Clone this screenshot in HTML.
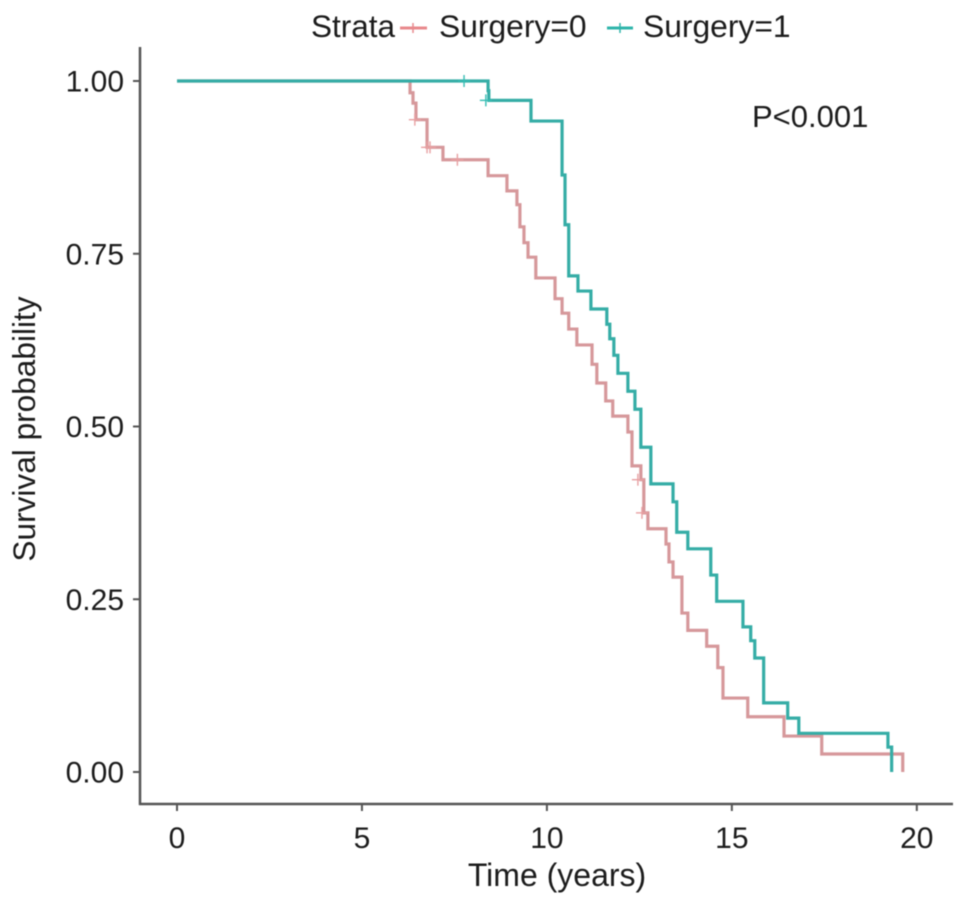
<!DOCTYPE html>
<html lang="en">
<head>
<meta charset="utf-8">
<title>Survival curve by surgery</title>
<style>
  html, body { margin: 0; padding: 0; background: #fff; }
  #chart { display: block; width: 969px; height: 905px; filter: blur(0.55px); font-family: "Liberation Sans", Arial, sans-serif; }
  text { fill: #1c1c1c; }
</style>
</head>
<body>
<svg id="chart" xmlns="http://www.w3.org/2000/svg" width="969" height="905" viewBox="0 0 969 905">
  <rect x="0" y="0" width="969" height="905" fill="#fff"></rect>
  <g id="axes"></g>
  <g id="series"></g>
  <text x="557" y="886" font-size="32" text-anchor="middle">Time (years)</text>
  <text transform="translate(35,429) rotate(-90)" font-size="31.6" text-anchor="middle">Survival probability</text>
  <text x="752" y="127" font-size="31">P&lt;0.001</text>
  <g>
    <text x="311" y="37" font-size="31.5">Strata</text>
    <g>
      <line x1="400" x2="427" y1="28" y2="28" stroke="#e8898c" stroke-width="3"></line>
      <line x1="413" x2="413" y1="23" y2="33" stroke="#e8898c" stroke-width="1.5"></line>
      <text x="439" y="37" font-size="31.8">Surgery=0</text>
    </g>
    <g>
      <line x1="607" x2="633" y1="28" y2="28" stroke="#2fb5ab" stroke-width="3"></line>
      <line x1="620" x2="620" y1="23" y2="33" stroke="#2fb5ab" stroke-width="1.5"></line>
      <text x="643" y="37" font-size="31.8">Surgery=1</text>
    </g>
  </g>
</svg>
<script>
const xTickValues = [0, 5, 10, 15, 20];
const yTickValues = [0, 0.25, 0.5, 0.75, 1];
const yTickLabels = ['0.00', '0.25', '0.50', '0.75', '1.00'];

const surgery0Times = [0, 6.30, 6.38, 6.46, 6.76, 7.19, 8.41, 8.92, 9.19, 9.27, 9.38, 9.49, 9.70, 10.22, 10.41, 10.59, 10.81, 11.22, 11.35, 11.59, 11.78, 12.19, 12.30, 12.54, 12.62, 12.73, 13.22, 13.30, 13.41, 13.65, 13.81, 14.32, 14.62, 14.76, 15.43, 16.41, 17.43, 19.62];
const surgery0Surv = [1, 0.983, 0.968, 0.944, 0.904, 0.886, 0.863, 0.841, 0.821, 0.789, 0.766, 0.745, 0.715, 0.685, 0.664, 0.641, 0.618, 0.590, 0.563, 0.537, 0.515, 0.492, 0.443, 0.423, 0.375, 0.352, 0.330, 0.304, 0.282, 0.230, 0.205, 0.182, 0.151, 0.107, 0.080, 0.052, 0.026, 0];
const surgery0CensorTimes = [6.43, 6.76, 6.84, 7.58, 12.46, 12.57];
const surgery0CensorSurv = [0.944, 0.904, 0.904, 0.886, 0.423, 0.375];

const surgery1Times = [0, 8.41, 8.43, 9.57, 10.41, 10.49, 10.59, 10.84, 11.19, 11.62, 11.70, 11.81, 11.92, 12.19, 12.38, 12.54, 12.81, 13.41, 13.51, 13.81, 14.43, 14.59, 15.30, 15.51, 15.62, 15.86, 16.51, 16.81, 19.22, 19.32];
const surgery1Surv = [1, 0.986, 0.972, 0.942, 0.864, 0.792, 0.718, 0.696, 0.670, 0.648, 0.627, 0.603, 0.577, 0.551, 0.525, 0.470, 0.417, 0.391, 0.347, 0.323, 0.285, 0.247, 0.210, 0.190, 0.165, 0.100, 0.078, 0.056, 0.036, 0];
const surgery1CensorTimes = [7.76, 8.35];
const surgery1CensorSurv = [1, 0.972];

const NS = 'http://www.w3.org/2000/svg';
const xScale = t => 177 + 36.99 * t;
const yScale = s => 772 - 691 * s;

function svgEl(tag, attrs, parent) {
  const el = document.createElementNS(NS, tag);
  for (const k in attrs) el.setAttribute(k, attrs[k]);
  parent.appendChild(el);
  return el;
}

const axes = document.getElementById('axes');
const seriesGroup = document.getElementById('series');

const yAxisLine = svgEl('line', { x1: 140, x2: 140, y1: 47, y2: 805, stroke: '#555', 'stroke-width': 2.5 }, axes);


const xAxisLine = svgEl('line', { x1: 139, x2: 953, y1: 804, y2: 804, stroke: '#555', 'stroke-width': 2.5 }, axes);



xTickValues.forEach(v => {
  const px = xScale(v);
  const tick = svgEl('line', { x1: px, x2: px, y1: 804, y2: 811, stroke: '#555', 'stroke-width': 2 }, axes);
  
  
  const label = svgEl('text', { x: px, y: 848, 'font-size': 30, 'text-anchor': 'middle' }, axes);
  
  
  label.textContent = String(v);
});

yTickValues.forEach((v, i) => {
  const py = yScale(v);
  const tick = svgEl('line', { x1: 133, x2: 140, y1: py, y2: py, stroke: '#555', 'stroke-width': 2 }, axes);
  
  
  const label = svgEl('text', { x: 124, y: py + 10.5, 'font-size': 30, 'text-anchor': 'end' }, axes);
  
  
  label.textContent = yTickLabels[i];
});

function stepPath(times, surv) {
  let d = 'M' + xScale(times[0]) + ' ' + yScale(surv[0]);
  for (let i = 1; i < times.length; i++) {
    d += 'H' + xScale(times[i]) + 'V' + yScale(surv[i]);
  }
  return d;
}

function drawCensors(times, surv, color, name) {
  times.forEach((t, i) => {
    const px = xScale(t);
    const py = yScale(surv[i]);
    const h = svgEl('line', { x1: px - 6, x2: px + 6, y1: py, y2: py, stroke: color, 'stroke-width': 1.4 }, seriesGroup);
    
    
    const v = svgEl('line', { x1: px, x2: px, y1: py - 6, y2: py + 6, stroke: color, 'stroke-width': 1.4 }, seriesGroup);
    
    
  });
}

const curve0 = svgEl('path', { d: stepPath(surgery0Times, surgery0Surv), fill: 'none', stroke: '#d6989b', 'stroke-width': 3.2, 'stroke-linejoin': 'miter' }, seriesGroup);


drawCensors(surgery0CensorTimes, surgery0CensorSurv, '#e8a0a2', 'censor-mark-surgery-0');

const curve1 = svgEl('path', { d: stepPath(surgery1Times, surgery1Surv), fill: 'none', stroke: '#35ada6', 'stroke-width': 3.2, 'stroke-linejoin': 'miter' }, seriesGroup);


drawCensors(surgery1CensorTimes, surgery1CensorSurv, '#35bdb3', 'censor-mark-surgery-1');
</script>
</body>
</html>
